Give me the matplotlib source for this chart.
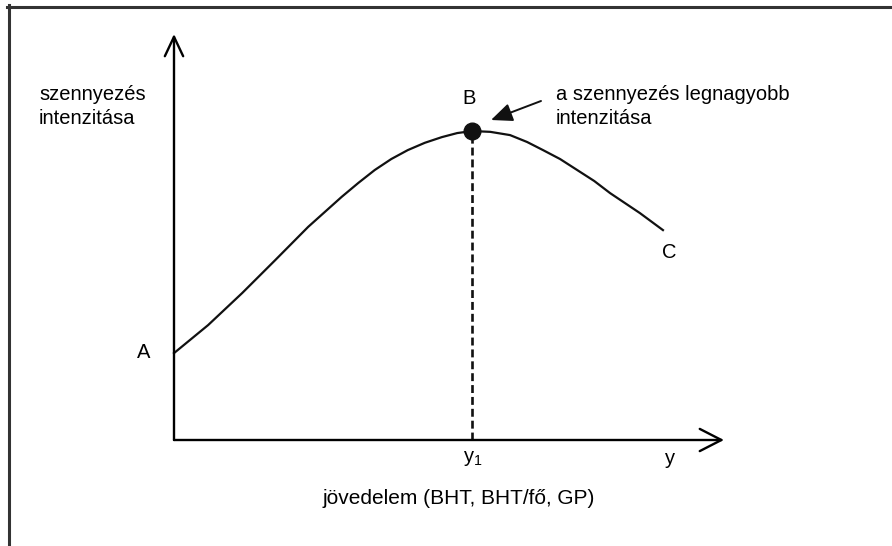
import matplotlib
matplotlib.use("Agg")
import matplotlib.pyplot as plt
from matplotlib.lines import Line2D
from matplotlib.patches import FancyArrowPatch

plt.rcParams['font.family'] = ['Liberation Sans', 'DejaVu Sans']
plt.rcParams['mathtext.fontset'] = 'custom'
plt.rcParams['mathtext.rm'] = 'Liberation Sans'

# jövedelem (x) és szennyezés intenzitása (y), tetszőleges egységekben
jovedelem = [0, 6.2, 12.4, 18.4, 24.4, 30.5, 33.5, 36.5, 39.5, 42.5, 45.6,
             48.7, 51.5, 54.2, 57.5, 61.1, 64.2, 67.1, 70.2, 73.3, 76.4,
             79.3, 84.7, 88.9]
szennyezes = [21.4, 28.3, 36.2, 44.3, 52.5, 59.9, 63.3, 66.5, 69.2, 71.4,
              73.2, 74.6, 75.6, 76.1, 75.9, 75.1, 73.4, 71.4, 69.2, 66.5,
              63.8, 60.8, 55.9, 51.7]
csucs_x = 54.2      # y1
csucs_y = 76.1      # B pont

W, H = 892, 546


def px(x, y):
    # pixel -> figure koordináta
    return x / W, 1 - y / H


fig = plt.figure(figsize=(W / 100, H / 100), dpi=100)
fig.patch.set_facecolor('white')

ax = fig.add_axes([174 / W, (H - 440) / H, 550 / W, 406 / H])
ax.set_xlim(0, 100)
ax.set_ylim(0, 100)
ax.axis('off')

# tengelyek nyíllal
ax.annotate('', xy=(100, 0), xytext=(0, 0),
            arrowprops=dict(arrowstyle='->,head_length=0.78,head_width=0.4',
                            lw=1.7, color='black', shrinkA=0, shrinkB=0,
                            mutation_scale=20))
ax.annotate('', xy=(0, 100), xytext=(0, 0),
            arrowprops=dict(arrowstyle='->,head_length=0.7,head_width=0.33',
                            lw=1.7, color='black', shrinkA=0, shrinkB=0,
                            mutation_scale=20))

# görbe
ax.plot(jovedelem, szennyezes, color='#111111', lw=1.6, clip_on=False,
        solid_joinstyle='round')
ax.plot([csucs_x, csucs_x], [0, csucs_y], color='#111111', lw=1.9,
        linestyle=(0, (3.0, 1.5)), clip_on=False)
ax.plot([csucs_x], [csucs_y], 'o', color='#111111', markersize=12,
        clip_on=False)

# keret
fig.add_artist(Line2D([8.5 / W, 8.5 / W], [1 - 5 / H, 0], color='#333333',
                      lw=2.2, transform=fig.transFigure))
fig.add_artist(Line2D([7 / W, 1], [1 - 6.5 / H, 1 - 6.5 / H],
                      color='#333333', lw=2.2, transform=fig.transFigure))

fs = 14.5
fig.text(*px(39, 85), 'szennyezés\nintenzitása', fontsize=fs, ha='left',
         va='top', linespacing=1.3)
fig.text(*px(556, 85), 'a szennyezés legnagyobb\nintenzitása', fontsize=fs,
         ha='left', va='top', linespacing=1.3)
fig.text(*px(469, 99), 'B', fontsize=fs, ha='center', va='center')
fig.text(*px(144, 353), 'A', fontsize=fs, ha='center', va='center')
fig.text(*px(669, 253), 'C', fontsize=fs, ha='center', va='center')
fig.text(*px(473, 459), r'$\mathregular{y_1}$', fontsize=fs, ha='center',
         va='center')
fig.text(*px(670, 459), 'y', fontsize=fs, ha='center', va='center')
fig.text(*px(459, 498), 'jövedelem (BHT, BHT/fő, GP)', fontsize=fs + 0.5,
         ha='center', va='center')

# mutató nyíl a B ponthoz
fig.add_artist(FancyArrowPatch(
    px(541, 101), px(491, 120), transform=fig.transFigure,
    arrowstyle='-|>,head_length=0.65,head_width=0.28', mutation_scale=20,
    lw=1.4, color='#111111', shrinkA=0, shrinkB=0))

fig.savefig('out.png', dpi=100)
